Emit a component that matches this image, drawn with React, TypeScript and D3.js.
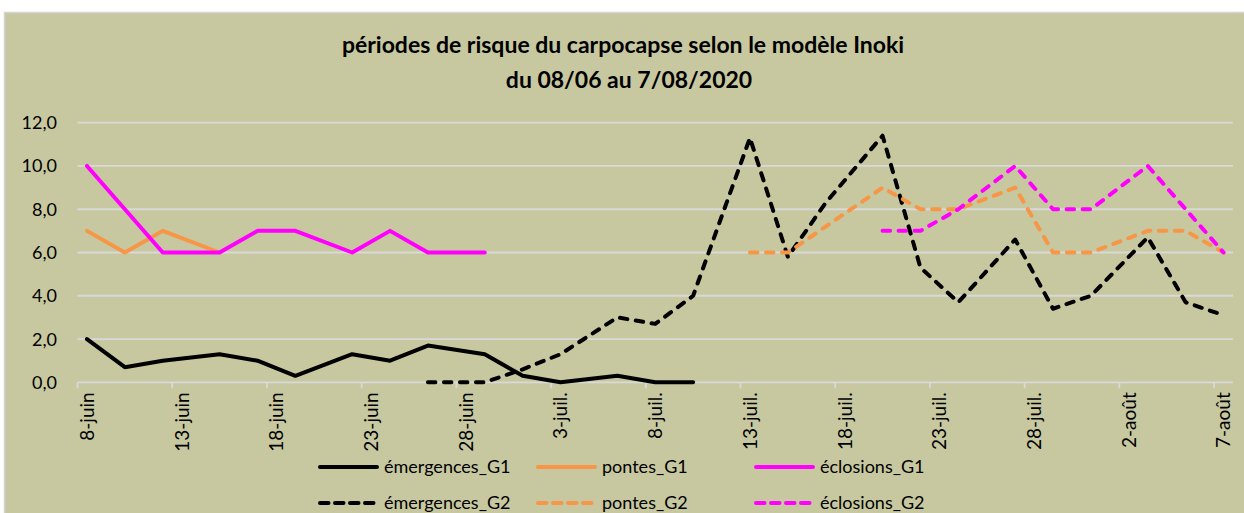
import React, { useEffect, useRef } from 'react';
import * as d3 from 'd3';

// one slot per day, 8 June -> 7 August 2020 (61 days)
const days: string[] = d3.range(61).map(i => String(i));

const tickLabels = ['8-juin', '13-juin', '18-juin', '23-juin', '28-juin', '3-juil.', '8-juil.',
  '13-juil.', '18-juil.', '23-juil.', '28-juil.', '2-août', '7-août'];

// measurement days (Mon / Wed / Fri) as day index from 8 June
const emergencesG1 = [[0, 2.0], [2, 0.7], [4, 1.0], [7, 1.3], [9, 1.0], [11, 0.3], [14, 1.3], [16, 1.0],
  [18, 1.7], [21, 1.3], [23, 0.3], [25, 0.0], [28, 0.3], [30, 0.0], [32, 0.0]];
const pontesG1 = [[0, 7.0], [2, 6.0], [4, 7.0], [7, 6.0]];
const eclosionsG1 = [[0, 10.0], [2, 8.0], [4, 6.0], [7, 6.0], [9, 7.0], [11, 7.0], [14, 6.0], [16, 7.0],
  [18, 6.0], [21, 6.0]];
const emergencesG2 = [[18, 0.0], [21, 0.0], [23, 0.6], [25, 1.3], [28, 3.0], [30, 2.7], [32, 4.0],
  [35, 11.3], [37, 5.8], [39, 8.3], [42, 11.4], [44, 5.3], [46, 3.7], [49, 6.6], [51, 3.4], [53, 4.0],
  [56, 6.7], [58, 3.7], [60, 3.1]];
const pontesG2 = [[35, 6.0], [37, 6.0], [39, 7.2], [42, 9.0], [44, 8.0], [46, 8.0], [49, 9.0], [51, 6.0],
  [53, 6.0], [56, 7.0], [58, 7.0], [60, 6.0]];
const eclosionsG2 = [[42, 7.0], [44, 7.0], [46, 8.0], [49, 10.0], [51, 8.0], [53, 8.0], [56, 10.0],
  [58, 8.0], [60, 6.0]];

const yTicks = [0, 2, 4, 6, 8, 10, 12];

const series = [
  { name: 'émergences_G1', data: emergencesG1, color: '#000000', dashed: false },
  { name: 'pontes_G1', data: pontesG1, color: '#F79646', dashed: false },
  { name: 'éclosions_G1', data: eclosionsG1, color: '#FF00FF', dashed: false },
  { name: 'émergences_G2', data: emergencesG2, color: '#000000', dashed: true },
  { name: 'pontes_G2', data: pontesG2, color: '#F79646', dashed: true },
  { name: 'éclosions_G2', data: eclosionsG2, color: '#FF00FF', dashed: true },
];

const W = 1244;
const H = 513;
const FONT = 'Lato, "Open Sans", sans-serif';
const DASH = '7.5 8.5';

const App = () => {
  const ref = useRef<SVGSVGElement>(null);

  useEffect(() => {
    const svg = d3.select(ref.current);
    svg.selectAll('*').remove();

    svg.append('rect').attr('width', W).attr('height', H).attr('fill', '#ffffff');
    svg.append('rect')
      .attr('x', 4.5).attr('y', 12.5)
      .attr('width', W).attr('height', H)
      .attr('fill', '#C7C8A0')
      .attr('stroke', '#D4D4D4').attr('stroke-width', 1.5);

    const x = d3.scaleBand().domain(days).range([77.5, 1233]);
    const y = d3.scaleLinear().domain([0, 12]).range([382.3, 122.7]);
    const cx = (i: number) => (x(String(i)) as number) + x.bandwidth() / 2;

    // title
    const title = svg.append('g')
      .style('font-family', FONT).style('font-weight', 'bold')
      .style('font-size', '23px').attr('fill', '#000')
      .attr('text-anchor', 'middle');
    title.append('text').attr('x', 623).attr('y', 53)
      .text('périodes de risque du carpocapse selon le modèle Inoki');
    title.append('text').attr('x', 629).attr('y', 88)
      .text('du 08/06 au 7/08/2020');

    // gridlines
    svg.append('g')
      .selectAll('line')
      .data(yTicks.filter(d => d > 0))
      .join('line')
      .attr('x1', 77.5).attr('x2', 1233)
      .attr('y1', d => y(d)).attr('y2', d => y(d))
      .attr('stroke', '#D9D9D9').attr('stroke-width', 1.8);

    // y axis labels
    svg.append('g')
      .selectAll('text')
      .data(yTicks)
      .join('text')
      .attr('x', 57).attr('y', d => y(d))
      .attr('dy', '0.36em')
      .attr('text-anchor', 'end')
      .style('font-family', FONT).style('font-size', '18px')
      .text(d => d3.format('.1f')(d).replace('.', ','));

    // x axis
    const xAxis = d3.axisBottom(x)
      .tickValues(days.filter((d, i) => i % 5 === 0))
      .tickSize(6)
      .tickFormat(d => tickLabels[+d / 5]);
    const gx = svg.append('g')
      .attr('transform', `translate(0,${y(0)})`)
      .call(xAxis);
    gx.select('.domain').attr('stroke', '#D9D9D9').attr('stroke-width', 1.8)
      .attr('d', `M77.5,0H1233`);
    gx.selectAll('.tick line')
      .attr('stroke', '#D9D9D9').attr('stroke-width', 1.8)
      .attr('transform', `translate(${-x.bandwidth() / 2},0)`);
    gx.selectAll('.tick text')
      .attr('transform', 'rotate(-90)')
      .attr('x', -10).attr('y', 0).attr('dy', '0.36em')
      .style('text-anchor', 'end')
      .style('font-family', FONT).style('font-size', '19px')
      .attr('fill', '#000');

    // series
    const line = d3.line<number[]>()
      .x(d => cx(d[0]))
      .y(d => y(d[1]));

    series.forEach(s => {
      svg.append('path')
        .datum(s.data)
        .attr('d', line)
        .attr('fill', 'none')
        .attr('stroke', s.color)
        .attr('stroke-width', 4)
        .attr('stroke-linejoin', 'round')
        .attr('stroke-linecap', 'round')
        .attr('stroke-dasharray', s.dashed ? DASH : null);
    });

    // legend
    const legX = [318, 536, 754];
    const legY = [467, 503];
    const leg = svg.append('g');
    series.forEach((s, k) => {
      const lx = legX[k % 3];
      const ly = legY[Math.floor(k / 3)];
      leg.append('line')
        .attr('x1', lx + 2).attr('x2', lx + 59)
        .attr('y1', ly).attr('y2', ly)
        .attr('stroke', s.color).attr('stroke-width', 4)
        .attr('stroke-linecap', 'round')
        .attr('stroke-dasharray', s.dashed ? '8.5 6.5' : null);
      leg.append('text')
        .attr('x', lx + 66).attr('y', ly).attr('dy', '0.36em')
        .style('font-family', FONT).style('font-size', '18px')
        .text(s.name);
    });
  }, []);

  return (
    <svg ref={ref} width={W} height={H}
      style={{ position: 'absolute', left: 0, top: 0, display: 'block' }} />
  );
};

export default App;
